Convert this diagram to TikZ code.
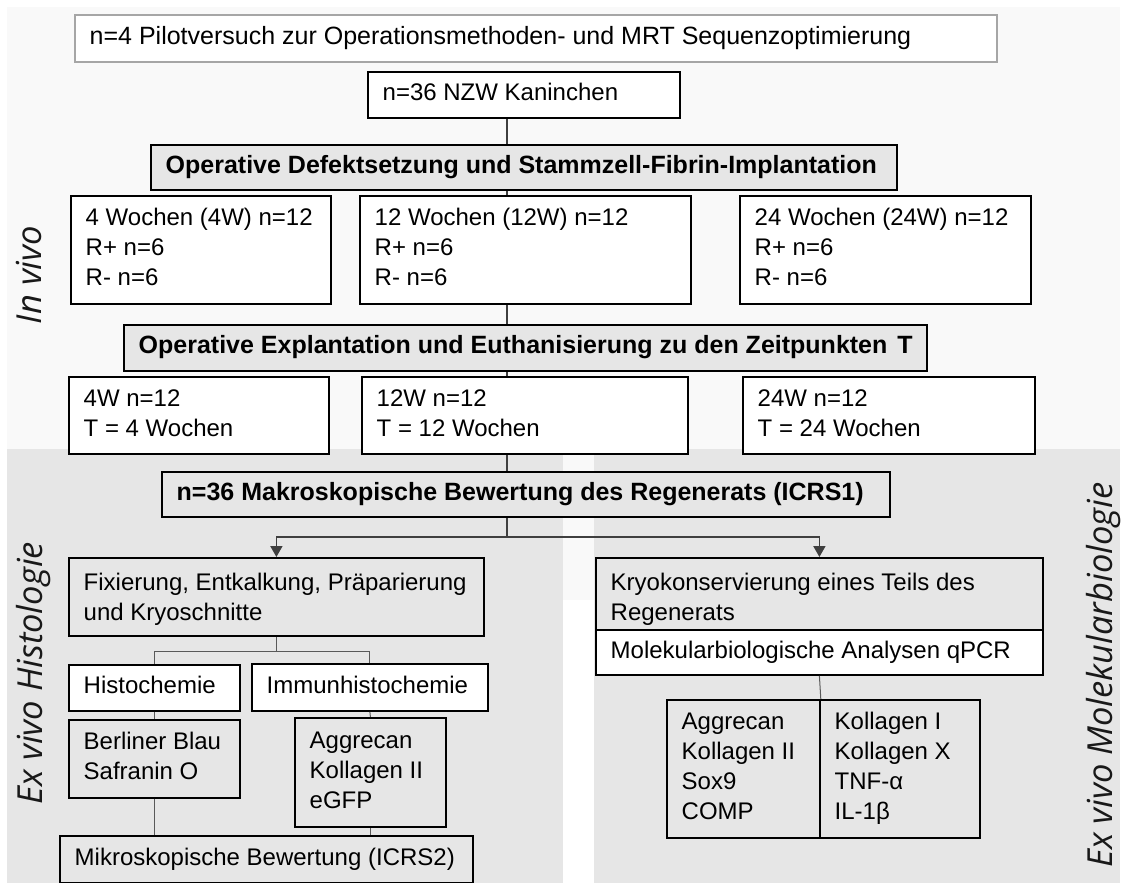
\documentclass[tikz,border=0pt]{standalone}
\usepackage{fontspec}
\setmainfont{Liberation Sans}
\newfontfamily\sidefont{Open Sans}
\usetikzlibrary{arrows.meta}
\definecolor{topbg}{HTML}{F9F9F9}
\definecolor{panel}{HTML}{E6E6E6}
\definecolor{boxgray}{HTML}{E6E6E6}
\definecolor{linegray}{HTML}{3F3F3F}
\definecolor{thingray}{HTML}{595959}
\definecolor{pilotgray}{HTML}{A6A6A6}
\newcommand{\mybox}[8][0]{%
  \pgfmathsetmacro\bw{#6-#4}\pgfmathsetmacro\bh{#7-#5}%
  \node[#2, minimum width=\bw pt, minimum height=\bh pt, anchor=north west] (#3) at (#4,#5) {};
  \node[#2txt, anchor=west] at ([xshift=15.5pt,yshift=-#1pt]#3.west) {\strut#8\strut};}
\begin{document}
\begin{tikzpicture}[x=1pt,y=-1pt,
  box/.style={draw=black, line width=1.8pt, fill=white, inner sep=0pt},
  graybox/.style={box, fill=boxgray},
  boldbox/.style={box, fill=boxgray},
  pilotbox/.style={box, draw=pilotgray},
  boxtxt/.style={align=left, inner sep=0pt, font=\fontsize{24}{30}\selectfont},
  grayboxtxt/.style={boxtxt},
  pilotboxtxt/.style={boxtxt, font=\fontsize{25}{30}\selectfont},
  boldboxtxt/.style={boxtxt, font=\fontsize{25}{30}\selectfont\bfseries},
  conn/.style={draw=linegray, line width=1.8pt},
  thinconn/.style={draw=thingray, line width=1pt},
  arr/.style={conn, -{Triangle[width=12pt,length=11pt]}},
  sidelabel/.style={font=\sidefont\itshape\fontsize{34.5}{40}\selectfont, rotate=90, anchor=base, inner sep=0pt, text=black!90},
]
\useasboundingbox (0,0) rectangle (1122,883);
\fill[white] (0,0) rectangle (1122,883);
\fill[topbg] (7,7) rectangle (1120,600);
\fill[panel] (7,449) rectangle (563,883);
\fill[panel] (594,449) rectangle (1120,883);
\fill[white] (563,600) rectangle (594,883);

\node[sidelabel] (lin) at (41,275) {In vivo};
\node[sidelabel] (lhist) at (42,673) {Ex vivo Histologie};
\node[sidelabel] (lmol) at (1112,675) {Ex vivo Molekularbiologie};

\mybox{pilotbox}{pilot}{74}{14}{996}{61}{n=4 Pilotversuch zur Operationsmethoden- und MRT Sequenzoptimierung}
\mybox{box}{nzw}{367}{71}{679}{117}{n=36 NZW Kaninchen}
\mybox{boldbox}{op1}{150}{144}{896}{189}{Operative Defektsetzung und Stammzell-Fibrin-Implantation}
\mybox{box}{wa}{70}{195}{330}{303}{4 Wochen (4W) n=12\\R+ n=6\\R- n=6}
\mybox{box}{wb}{359}{195}{690}{303}{12 Wochen (12W) n=12\\R+ n=6\\R- n=6}
\mybox{box}{wc}{739}{195}{1030}{303}{24 Wochen (24W) n=12\\R+ n=6\\R- n=6}
\mybox{boldbox}{op2}{123}{324}{926}{370}{Operative Explantation und Euthanisierung zu den Zeitpunkten\hspace{10pt}T}
\mybox{box}{ta}{68}{376}{328}{453}{4W n=12\\T = 4 Wochen}
\mybox{box}{tb}{361}{376}{687}{453}{12W n=12\\T = 12 Wochen}
\mybox{box}{tc}{742}{376}{1034}{453}{24W n=12\\T = 24 Wochen}
\mybox{boldbox}{op3}{161}{471}{889}{516}{n=36 Makroskopische Bewertung des Regenerats (ICRS1)}
\mybox[3]{graybox}{fix}{68}{557}{483}{635}{Fixierung, Entkalkung, Präparierung\\und Kryoschnitte}
\mybox{box}{histo}{68}{664}{239}{710}{Histochemie}
\mybox{box}{immun}{251}{663}{487}{710}{Immunhistochemie}
\mybox{graybox}{berl}{68}{719}{239}{797}{Berliner Blau\\Safranin O}
\mybox{graybox}{aggr}{294}{717}{445}{826}{Aggrecan\\Kollagen II\\eGFP}
\mybox{graybox}{mikro}{59}{835}{472}{882}{Mikroskopische Bewertung (ICRS2)}
\mybox[6]{graybox}{kryo}{595}{557}{1042}{629}{Kryokonservierung eines Teils des\\Regenerats}
\mybox{box}{molek}{595}{629}{1042}{674}{Molekularbiologische Analysen qPCR}
\mybox{graybox}{genl}{666}{699}{819}{837}{Aggrecan\\Kollagen II\\Sox9\\COMP}
\mybox{graybox}{genr}{819}{699}{979}{837}{Kollagen I\\Kollagen X\\TNF-α\\IL-1β}

\coordinate (spine) at (507,0);
\draw[conn] (nzw.south -| spine) -- (op1.north -| spine);
\draw[conn] (op1.south -| spine) -- (wb.north -| spine);
\draw[conn] (wb.south -| spine) -- (op2.north -| spine);
\draw[conn] (op2.south -| spine) -- (tb.north -| spine);
\draw[conn] (tb.south -| spine) -- (op3.north -| spine);
\coordinate (split) at (507,537);
\draw[conn] (op3.south -| spine) -- (split);
\draw[arr] (split) -| (fix.north);
\draw[arr] (split) -| (kryo.north);

\coordinate (hs) at ([yshift=-15pt]fix.south);
\draw[thinconn] (fix.south) -- (hs);
\draw[thinconn] (hs) -| (histo.north);
\draw[thinconn] (hs) -| (immun.north);
\draw[thinconn] (histo.south) -- (berl.north);
\draw[thinconn] (immun.south) -- (aggr.north);
\draw[thinconn] (berl.south) -- (berl.south |- mikro.north);
\draw[thinconn] (aggr.south) -- (aggr.south |- mikro.north);
\draw[thinconn] (molek.south) -- (genl.north east);
\end{tikzpicture}
\end{document}
